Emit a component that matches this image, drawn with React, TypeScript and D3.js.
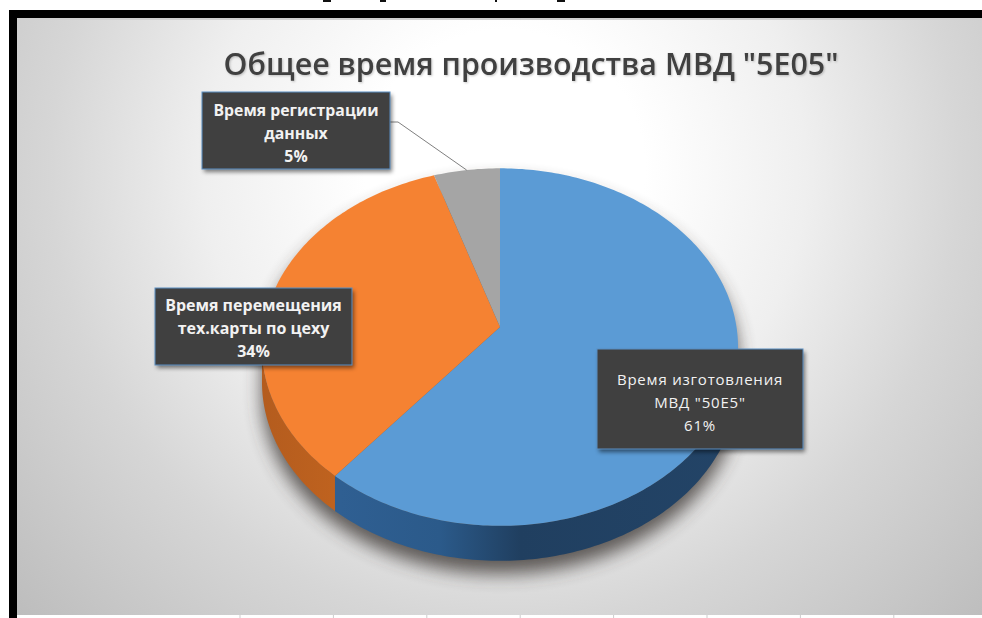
import React from "react";
import * as d3 from "d3";

// Production time breakdown, percent of total
const shares = [61, 34, 5];
const topColors = ["#5b9bd5", "#f58232", "#a5a5a5"];
const chartTitle = "Общее время производства МВД \"5E05\"";

const labelLines = [
  ["Время изготовления", "МВД \"50E5\"", "61%"],
  ["Время перемещения", "тех.карты по цеху", "34%"],
  ["Время регистрации", "данных", "5%"],
];
const labelBoxes = [
  { x: 597, y: 349, w: 206, h: 100, weight: 400, size: 15, spacing: 0.8, first: 385 },
  { x: 155, y: 288, w: 197, h: 77, weight: 700, size: 16, spacing: 0, first: 311 },
  { x: 202, y: 92, w: 188, h: 77, weight: 700, size: 15.8, spacing: 0, first: 116 },
];
const gridColumns = d3.range(8).map((i) => 240 + i * 93.4);
// Tails of the line of body text cut off by the top of the page
const cutTextTails = [
  [323, 8],
  [380, 6],
  [495, 2],
  [557, 8],
];

// Tilted disc: a circle seen in perspective, so the centre sits above the ellipse middle
const cx = 500;
const cy = 327;
const sx = 236.5;
const sy = 176.5;
const persp = 0.1124;
const depth = 35;

const project = (a: number): [number, number] => {
  const w = 1 + persp * Math.cos(a);
  return [cx + (sx * Math.sin(a)) / w, cy - (sy * Math.cos(a)) / w];
};

const tangentRight = Math.acos(-persp);
const tangentLeft = 2 * Math.PI - tangentRight;

const line = d3.line<[number, number]>();
const arcPoints = (a0: number, a1: number) => {
  const n = Math.max(2, Math.ceil(((a1 - a0) * 180) / Math.PI));
  return d3.range(n + 1).map((i) => project(a0 + ((a1 - a0) * i) / n));
};

const slices = d3
  .pie<number>()
  .sort(null)
  .startAngle(0)
  .endAngle(2 * Math.PI)(shares);

const facePath = (a0: number, a1: number) =>
  line([[cx, cy], ...arcPoints(a0, a1)]) + "Z";

const wallPath = (a0: number, a1: number) => {
  const s = Math.max(a0, tangentRight);
  const e = Math.min(a1, tangentLeft);
  if (e <= s) return null;
  const upper = arcPoints(s, e);
  const lower = upper.map(([x, y]) => [x, y + depth] as [number, number]).reverse();
  return line([...upper, ...lower]) + "Z";
};

const outline = [
  ...arcPoints(tangentLeft - 2 * Math.PI, tangentRight),
  ...arcPoints(tangentRight, tangentLeft).map(([x, y]) => [x, y + depth] as [number, number]),
];

const font = "'Open Sans', 'Noto Sans', sans-serif";

export default function App() {
  return (
    <svg
      width={982}
      height={618}
      viewBox="0 0 982 618"
      style={{ position: "fixed", left: 0, top: 0, background: "#fff" }}
    >
      <defs>
        <radialGradient id="plate" gradientUnits="userSpaceOnUse" cx={505} cy={170} r={700}>
          <stop offset="0.2" stopColor="#ffffff" />
          <stop offset="0.43" stopColor="#efefef" />
          <stop offset="0.65" stopColor="#d6d6d6" />
          <stop offset="1" stopColor="#b8b8b8" />
        </radialGradient>
        <linearGradient id="wallBlue" gradientUnits="userSpaceOnUse" x1={340} x2={740} y1={0} y2={0}>
          <stop offset="0" stopColor="#2f5f92" />
          <stop offset="0.25" stopColor="#2b5a8a" />
          <stop offset="0.45" stopColor="#203f60" />
          <stop offset="1" stopColor="#234467" />
        </linearGradient>
        <linearGradient id="wallOrange" gradientUnits="userSpaceOnUse" x1={262} x2={345} y1={0} y2={0}>
          <stop offset="0" stopColor="#b45c1e" />
          <stop offset="1" stopColor="#c0631f" />
        </linearGradient>
        <filter id="soft" x="-20%" y="-20%" width="140%" height="140%">
          <feGaussianBlur stdDeviation="9" />
        </filter>
        <filter id="boxShadow" x="-10%" y="-15%" width="120%" height="130%">
          <feGaussianBlur stdDeviation="2" />
        </filter>
        <filter id="titleShadow" x="-5%" y="-30%" width="110%" height="160%">
          <feDropShadow dx="1" dy="1" stdDeviation="1" floodColor="#000" floodOpacity="0.22" />
        </filter>
      </defs>

      {cutTextTails.map(([x, w]) => (
        <rect key={x} x={x} y={0} width={w} height={2} fill="#111" />
      ))}

      {/* Worksheet frame and cell gridlines peeking round the chart */}
      <rect x={9} y={10} width={973} height={608} fill="#000" />
      <rect x={17} y={18} width={965} height={600} fill="#fff" />
      <rect x={17} y={18} width={965} height={3} fill="#cfcfcf" />
      {gridColumns.map((x) => (
        <g key={x} stroke="#cdcdcd" strokeWidth={1}>
          <line x1={x} x2={x} y1={18} y2={22} />
          <line x1={x} x2={x} y1={614} y2={618} />
        </g>
      ))}
      <rect x={17} y={20} width={965} height={595} fill="url(#plate)" />

      <text
        x={531}
        y={75}
        textAnchor="middle"
        fontFamily={font}
        fontWeight={600}
        fontSize={30.4}
        fill="#404040"
        filter="url(#titleShadow)"
      >
        {chartTitle}
      </text>

      {/* Soft shadow under the disc */}
      <path
        d={line(outline) + "Z"}
        transform="translate(0,13)"
        fill="#3c3834"
        opacity={0.8}
        filter="url(#soft)"
      />

      {slices.map((s, i) => {
        const d = wallPath(s.startAngle, s.endAngle);
        return d ? (
          <path key={i} d={d} fill={i === 0 ? "url(#wallBlue)" : "url(#wallOrange)"} />
        ) : null;
      })}
      {slices.map((s, i) => (
        <path key={i} d={facePath(s.startAngle, s.endAngle)} fill={topColors[i]} />
      ))}

      {/* Leader from the smallest slice to its label */}
      <polyline
        points={`390,122 398,122 ${project((slices[2].startAngle + slices[2].endAngle) / 2).join(",")}`}
        fill="none"
        stroke="#7f7f7f"
        strokeWidth={1}
      />

      {labelBoxes.map((b, i) => (
        <g key={i}>
          <rect
            x={b.x + 2}
            y={b.y + 3}
            width={b.w}
            height={b.h}
            fill="#000"
            opacity={0.5}
            filter="url(#boxShadow)"
          />
          <rect
            x={b.x}
            y={b.y}
            width={b.w}
            height={b.h}
            fill="#404040"
            stroke="#5b8fc4"
            strokeWidth={1}
          />
          {labelLines[i].map((t, j) => (
            <text
              key={j}
              x={b.x + b.w / 2}
              y={b.first + j * 23}
              textAnchor="middle"
              fontFamily={font}
              fontSize={b.size}
              fontWeight={b.weight}
              letterSpacing={b.spacing}
              fill="#f2f2f2"
            >
              {t}
            </text>
          ))}
        </g>
      ))}
    </svg>
  );
}
